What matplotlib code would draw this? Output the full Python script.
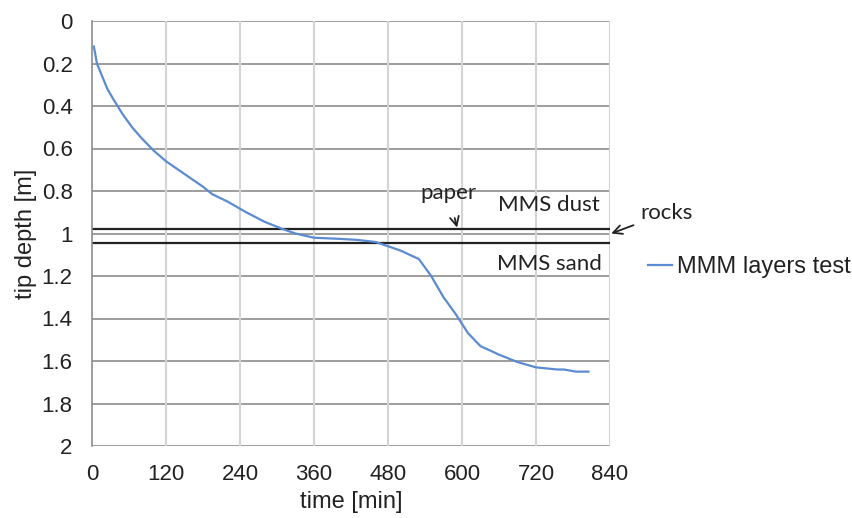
import matplotlib
matplotlib.use("Agg")
import matplotlib.pyplot as plt

time_min = [3, 8, 15, 25, 35, 50, 65, 80, 100, 120, 150, 180, 195, 220, 250, 280, 310,
            330, 360, 400, 430, 460, 480, 500, 530, 550, 570, 590, 610, 630, 660, 690,
            720, 755, 765, 785, 805]
depth_m = [0.12, 0.2, 0.25, 0.32, 0.37, 0.44, 0.5, 0.55, 0.61, 0.66, 0.72, 0.78, 0.815,
           0.85, 0.9, 0.945, 0.98, 1.0, 1.02, 1.025, 1.03, 1.04, 1.06, 1.08, 1.12, 1.2,
           1.3, 1.38, 1.47, 1.53, 1.57, 1.605, 1.63, 1.64, 1.64, 1.65, 1.65]
layer_lines = [0.98, 1.045]
x_ticks = [0, 120, 240, 360, 480, 600, 720, 840]
y_ticks = [0, 0.2, 0.4, 0.6, 0.8, 1, 1.2, 1.4, 1.6, 1.8, 2]
y_tick_labels = ["0", "0.2", "0.4", "0.6", "0.8", "1", "1.2", "1.4", "1.6", "1.8", "2"]

plt.rcParams['font.family'] = ['Liberation Sans', 'DejaVu Sans']

fig = plt.figure(figsize=(8.52, 5.18), dpi=100)
ax = fig.add_axes([92/852, 1-446/518, (610-92)/852, (446-21)/518])

ax.set_xlim(0, 840)
ax.set_ylim(2, 0)
ax.set_xticks(x_ticks)
ax.set_yticks(y_ticks)
ax.set_yticklabels(y_tick_labels)
ax.tick_params(length=0, labelsize=16, colors='#222222')
ax.tick_params(axis='x', pad=13)
ax.tick_params(axis='y', pad=14)

for y in y_ticks:
    ax.axhline(y, color='#8c8c8c', lw=1.2, zorder=1)
for x in x_ticks[1:]:
    ax.axvline(x, color='#d4d4d4', lw=1.5, zorder=1)

for s in ['top', 'bottom', 'right']:
    ax.spines[s].set_visible(False)
ax.spines['left'].set_color('#8c8c8c')
ax.spines['left'].set_linewidth(1.2)

for y in layer_lines:
    ax.axhline(y, color='#222222', lw=1.6, zorder=2)

line, = ax.plot(time_min, depth_m, color='#5b8bd0', lw=1.6, zorder=3,
                label='MMM layers test')

ax.set_xlabel('time [min]', fontsize=17, labelpad=4, color='#222222')
ax.set_ylabel('tip depth [m]', fontsize=17, labelpad=3, color='#222222')

annot_font = ['Lato', 'DejaVu Sans']
ax.text(741, 0.866, 'MMS dust', fontsize=16, family=annot_font, ha='center', va='center', color='#222222')
ax.text(741, 1.144, 'MMS sand', fontsize=16, family=annot_font, ha='center', va='center', color='#222222')
ax.annotate('paper', xy=(592, 0.972), xytext=(578, 0.81), fontsize=16, family=annot_font,
            ha='center', va='center', color='#222222',
            arrowprops=dict(arrowstyle='->', color='#222222', lw=1.3,
                            shrinkA=9, shrinkB=0))
ax.annotate('rocks', xy=(842, 1.0), xytext=(889, 0.903), fontsize=16, family=annot_font,
            ha='left', va='center', color='#222222', annotation_clip=False,
            arrowprops=dict(arrowstyle='->', color='#222222', lw=1.3,
                            shrinkA=3, shrinkB=0))

fig.legend(handles=[line], loc='center left', bbox_to_anchor=(648/852, 1-267/518),
           frameon=False, fontsize=17, handlelength=1.02, handletextpad=0.21,
           borderpad=0, borderaxespad=0, labelcolor='#222222')

fig.savefig('out.png', dpi=100)
